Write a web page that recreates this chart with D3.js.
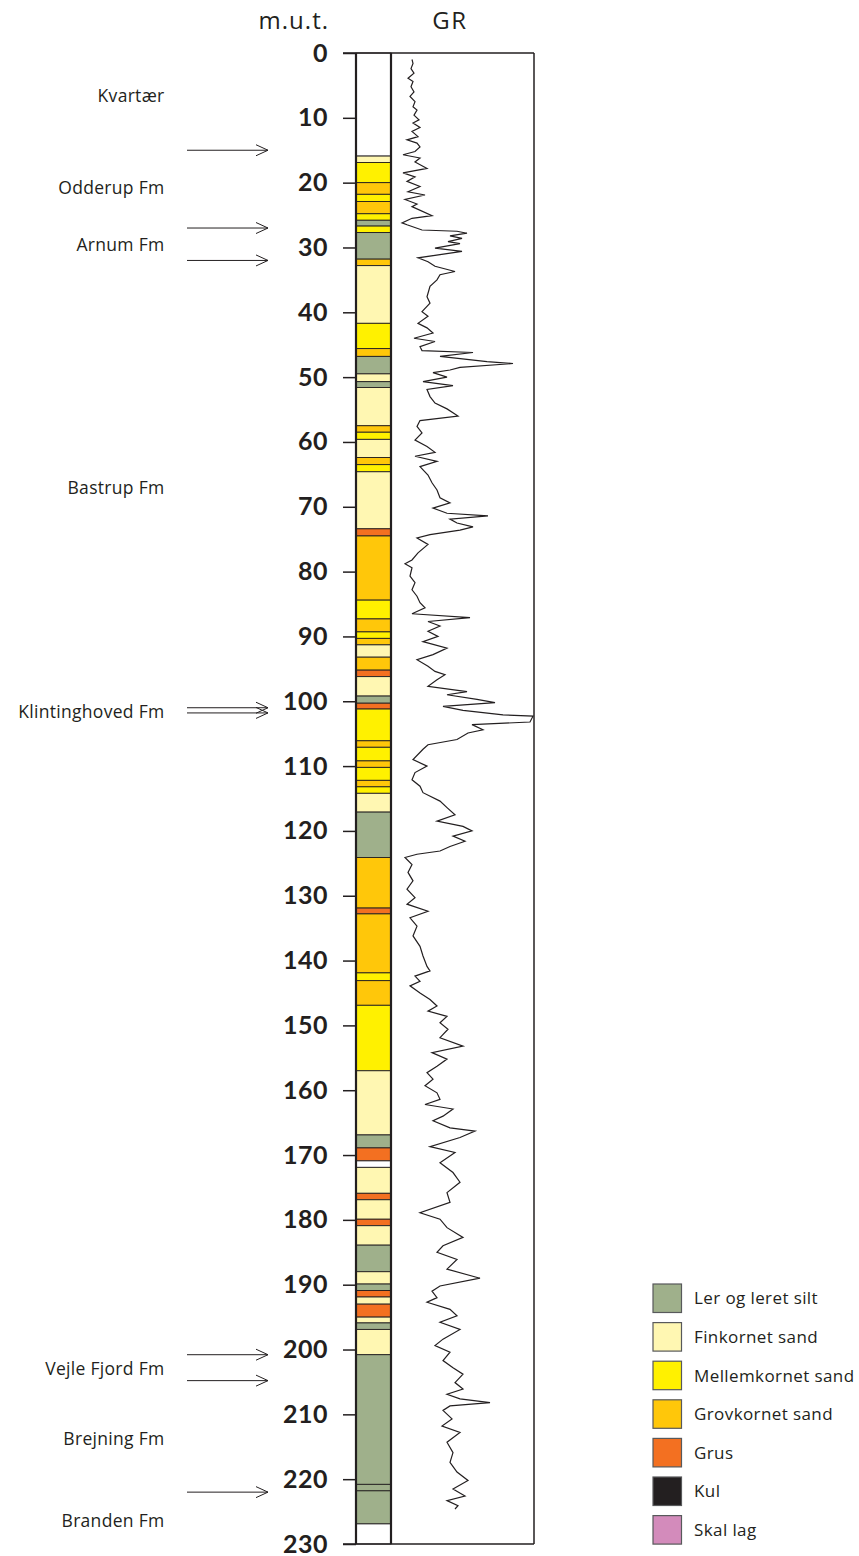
<!DOCTYPE html>
<html>
<head>
<meta charset="utf-8">
<script src="https://cdn.jsdelivr.net/npm/d3@7"></script>
<style>
body { margin: 0; background: #fff; }
text { font-family: "Open Sans", Lato, sans-serif; fill: #231f20; }
</style>
</head>
<body>
<div id="chart"></div>
<script>
// Borehole log: lithology column and gamma ray (GR) curve.
// Depths in metres below surface (m.u.t.).

var depthTicks = [0, 10, 20, 30, 40, 50, 60, 70, 80, 90, 100, 110, 120, 130, 140, 150, 160, 170, 180, 190, 200, 210, 220, 230];

// layer boundaries (one more entry than layerTypes)
var layerDepths = [0, 15.9, 16.9, 20.0, 21.8, 22.9, 24.8, 25.8, 26.7, 27.7,
    31.8, 32.8, 41.7, 45.6, 46.8, 49.5, 50.7, 51.6, 57.5, 58.5,
    59.6, 62.4, 63.5, 64.6, 73.4, 74.5, 84.4, 87.3, 89.3, 90.3,
    91.3, 93.2, 95.2, 96.2, 99.2, 100.3, 101.2, 106.1, 107.1, 109.2,
    110.2, 112.2, 113.2, 114.2, 117.1, 124.1, 131.9, 132.8, 141.9, 143.1,
    146.9, 157.0, 166.9, 168.9, 170.9, 171.9, 175.9, 176.9, 179.9, 180.9,
    183.9, 188.0, 189.9, 190.9, 191.9, 193.0, 195.0, 195.9, 196.9, 200.8,
    220.8, 221.8, 226.9, 230];
var layerTypes = ["none", "fin", "mellem", "grov", "mellem", "grov", "mellem", "ler", "mellem", "ler",
    "grov", "fin", "mellem", "grov", "ler", "fin", "ler", "fin", "grov", "mellem",
    "fin", "grov", "mellem", "fin", "grus", "grov", "mellem", "grov", "mellem", "grov",
    "fin", "grov", "grus", "fin", "ler", "grus", "mellem", "grov", "mellem", "grov",
    "mellem", "grov", "mellem", "fin", "ler", "grov", "grus", "grov", "mellem", "grov",
    "mellem", "fin", "ler", "grus", "none", "fin", "grus", "fin", "grus", "fin",
    "ler", "fin", "ler", "grus", "fin", "grus", "fin", "ler", "fin", "ler",
    "ler", "ler", "none"];

// legend
var legendKeys = ["ler", "fin", "mellem", "grov", "grus", "kul", "skal"];
var legendNames = ["Ler og leret silt", "Finkornet sand", "Mellemkornet sand", "Grovkornet sand", "Grus", "Kul", "Skal lag"];
var legendColors = ["#9fb08b", "#fff7b2", "#fff100", "#ffc70a", "#f37021", "#231f20", "#d38bbb"];

// formations
var formationNames = ["Kvartær", "Odderup Fm", "Arnum Fm", "Bastrup Fm", "Klintinghoved Fm", "Vejle Fjord Fm", "Brejning Fm", "Branden Fm"];
var formationDepths = [7.5, 21.7, 30.6, 68.0, 102.6, 203.9, 214.8, 227.4];
var boundaryDepths = [15.0, 27.0, 32.0, 101.0, 101.8, 200.8, 204.8, 222.0];

// gamma ray log
var grDepth = [1.0, 1.6, 2.4, 3.1, 3.9, 4.4, 5.2, 6.0, 6.7, 7.5,
    8.3, 8.8, 9.6, 10.3, 10.8, 11.5, 12.1, 12.9, 13.4, 13.9,
    14.5, 15.2, 15.7, 16.2, 16.8, 17.8, 18.5, 19.1, 19.8, 20.6,
    21.4, 21.9, 22.6, 23.3, 23.7, 25.1, 25.5, 26.2, 26.5, 27.3,
    27.5, 27.8, 28.2, 28.6, 29.1, 29.4, 30.1, 30.6, 31.1, 31.6,
    32.2, 32.9, 33.7, 34.2, 35.0, 36.0, 37.6, 38.6, 39.9, 40.6,
    41.7, 42.4, 43.2, 44.0, 44.5, 45.3, 45.9, 46.2, 46.8, 47.6,
    47.9, 48.5, 48.9, 49.3, 50.0, 50.7, 51.3, 51.9, 53.0, 54.0,
    54.9, 56.0, 56.7, 57.6, 58.6, 59.7, 60.7, 61.6, 62.2, 63.0,
    63.8, 65.1, 66.3, 67.4, 68.6, 69.4, 70.2, 71.0, 71.4, 71.9,
    72.5, 73.1, 73.6, 74.3, 74.8, 75.8, 77.1, 78.2, 78.8, 79.4,
    80.7, 81.7, 82.8, 83.8, 84.8, 85.6, 86.5, 87.1, 87.7, 88.4,
    89.2, 90.0, 90.8, 91.8, 92.8, 93.6, 94.6, 95.4, 95.9, 96.7,
    97.7, 98.5, 99.0, 99.7, 100.2, 100.8, 101.4, 102.1, 102.3, 103.2,
    103.6, 104.4, 104.9, 105.9, 106.7, 107.4, 109.0, 110.0, 111.0, 112.1,
    113.1, 114.1, 115.4, 116.4, 117.5, 118.5, 119.3, 120.0, 120.8, 121.6,
    122.4, 123.1, 123.6, 124.1, 125.2, 126.4, 127.7, 129.0, 130.3, 131.3,
    132.4, 133.4, 134.7, 136.2, 137.8, 139.3, 140.9, 141.6, 142.4, 143.2,
    143.9, 145.0, 146.0, 147.0, 147.8, 148.6, 149.6, 150.6, 151.9, 153.2,
    154.2, 155.2, 156.3, 157.3, 158.3, 159.3, 160.4, 161.4, 162.2, 162.9,
    164.0, 164.7, 165.8, 166.3, 167.3, 168.7, 169.6, 171.2, 172.7, 174.2,
    175.8, 177.3, 178.9, 179.9, 181.2, 182.7, 184.0, 185.0, 186.1, 187.6,
    189.0, 190.2, 191.0, 192.0, 192.7, 193.8, 194.8, 195.8, 196.9, 198.4,
    199.4, 200.4, 201.7, 202.8, 203.8, 205.1, 206.1, 206.9, 207.6, 208.2,
    208.7, 209.4, 210.7, 211.8, 212.8, 214.3, 215.9, 217.4, 218.9, 220.2,
    221.5, 222.6, 223.3, 224.1, 224.6];
var grValue = [21, 22, 20, 23, 17, 22, 20, 23, 19, 24,
    22, 26, 23, 28, 22, 29, 21, 27, 16, 26,
    29, 24, 12, 29, 24, 36, 12, 24, 16, 29,
    17, 34, 14, 26, 21, 41, 21, 11, 16, 31,
    66, 76, 59, 71, 57, 69, 44, 71, 49, 27,
    37, 44, 64, 49, 46, 39, 36, 39, 31, 37,
    27, 36, 42, 23, 44, 29, 31, 82, 49, 96,
    122, 69, 59, 42, 56, 32, 62, 36, 39, 44,
    56, 67, 29, 26, 31, 24, 36, 44, 24, 46,
    29, 37, 41, 46, 49, 59, 42, 56, 97, 59,
    66, 82, 69, 39, 26, 37, 27, 21, 14, 21,
    19, 24, 21, 26, 29, 34, 21, 79, 37, 49,
    37, 47, 32, 56, 42, 26, 37, 44, 54, 46,
    37, 76, 56, 86, 104, 52, 72, 112, 142, 139,
    81, 92, 77, 66, 37, 32, 22, 36, 24, 21,
    29, 32, 49, 56, 64, 46, 72, 81, 62, 74,
    59, 49, 26, 14, 21, 17, 22, 16, 24, 16,
    37, 19, 26, 22, 29, 32, 36, 39, 24, 29,
    19, 29, 39, 46, 37, 56, 49, 57, 49, 72,
    41, 56, 46, 36, 42, 34, 46, 49, 34, 62,
    52, 42, 59, 84, 69, 39, 64, 49, 62, 69,
    56, 59, 29, 49, 56, 72, 52, 46, 66, 56,
    89, 49, 41, 46, 36, 59, 66, 49, 69, 52,
    44, 59, 52, 62, 72, 64, 72, 56, 69, 99,
    59, 52, 61, 51, 69, 56, 62, 59, 66, 77,
    62, 74, 56, 67, 64];

var W = 859, H = 1556;
var colX0 = 356, colX1 = 391, grX1 = 534, tickX0 = 343;

var svg = d3.select("#chart").append("svg")
    .attr("width", W).attr("height", H);

var y = d3.scaleLinear().domain([0, 230]).range([53, 1544]);
var grX = d3.scaleLinear().domain([0, 143]).range([colX1, grX1]);
var fill = d3.scaleOrdinal().domain(legendKeys.concat(["none"])).range(legendColors.concat(["#ffffff"]));

// lithology column
var layers = layerTypes.map(function (t, i) {
    return {type: t, top: layerDepths[i], base: layerDepths[i + 1]};
});
svg.append("g").selectAll("rect").data(layers).enter().append("rect")
    .attr("x", colX0)
    .attr("y", function (d) { return y(d.top); })
    .attr("width", colX1 - colX0)
    .attr("height", function (d) { return y(d.base) - y(d.top); })
    .attr("fill", function (d) { return fill(d.type); })
    .attr("stroke", "#231f20")
    .attr("stroke-width", 0.9);

// GR curve
var line = d3.line()
    .x(function (d) { return grX(d[1]); })
    .y(function (d) { return y(d[0]); });
svg.append("path")
    .datum(grDepth.map(function (d, i) { return [d, grValue[i]]; }))
    .attr("d", line)
    .attr("fill", "none")
    .attr("stroke", "#231f20")
    .attr("stroke-width", 1.2);

// frame
var frame = svg.append("g").attr("stroke", "#231f20").attr("fill", "none");
frame.append("line").attr("x1", tickX0).attr("x2", grX1).attr("y1", y(0)).attr("y2", y(0)).attr("stroke-width", 1.5);
frame.append("line").attr("x1", tickX0).attr("x2", grX1).attr("y1", y(230)).attr("y2", y(230)).attr("stroke-width", 1.5);
frame.append("line").attr("x1", colX0).attr("x2", colX0).attr("y1", y(0)).attr("y2", y(230)).attr("stroke-width", 2.2);
frame.append("line").attr("x1", colX1).attr("x2", colX1).attr("y1", y(0)).attr("y2", y(230)).attr("stroke-width", 2.2);
frame.append("line").attr("x1", grX1).attr("x2", grX1).attr("y1", y(0)).attr("y2", y(230)).attr("stroke-width", 1.5);

// depth axis
var axis = d3.axisLeft(y).tickValues(depthTicks).tickSize(colX0 - tickX0).tickSizeOuter(0).tickPadding(15);
var ag = svg.append("g").attr("transform", "translate(" + colX0 + ",0)").call(axis);
ag.select(".domain").remove();
ag.selectAll(".tick line").attr("stroke", "#231f20").attr("stroke-width", 1.5);
ag.selectAll(".tick text")
    .style("font-family", "Lato, sans-serif")
    .style("font-weight", "700")
    .style("font-size", "25px")
    .style("letter-spacing", "0.5px")
    .attr("fill", "#231f20");

// headers
svg.append("text").attr("x", 329).attr("y", 28.5).attr("text-anchor", "end")
    .style("font-size", "24px").style("letter-spacing", "1px").text("m.u.t.");
svg.append("text").attr("x", 450).attr("y", 28.5).attr("text-anchor", "middle")
    .style("font-size", "24px").style("letter-spacing", "1.5px").text("GR");

// formation labels
svg.append("g").selectAll("text").data(formationNames).enter().append("text")
    .attr("x", 164.5)
    .attr("y", function (d, i) { return y(formationDepths[i]); })
    .attr("text-anchor", "end")
    .style("font-size", "17.5px")
    .style("letter-spacing", "0.3px")
    .text(function (d) { return d; });

// boundary arrows
var arrows = svg.append("g").attr("stroke", "#231f20").attr("fill", "none").attr("stroke-width", 1);
boundaryDepths.forEach(function (d) {
    var yy = y(d);
    arrows.append("line").attr("x1", 187).attr("x2", 268).attr("y1", yy).attr("y2", yy);
    arrows.append("path").attr("d", "M256," + (yy - 5.5) + "L268," + yy + "L256," + (yy + 5.5));
});

// legend
var lg = svg.append("g").attr("transform", "translate(653,1284)");
var items = lg.selectAll("g").data(legendNames).enter().append("g")
    .attr("transform", function (d, i) { return "translate(0," + (i * 38.6) + ")"; });
items.append("rect")
    .attr("width", 28.5).attr("height", 28.5)
    .attr("fill", function (d, i) { return legendColors[i]; })
    .attr("stroke", "#58595b").attr("stroke-width", 1.2);
items.append("text")
    .attr("x", 41).attr("y", 14.5).attr("dy", "0.35em")
    .style("font-size", "17px")
    .style("letter-spacing", "0.4px")
    .text(function (d) { return d; });
</script>
</body>
</html>
